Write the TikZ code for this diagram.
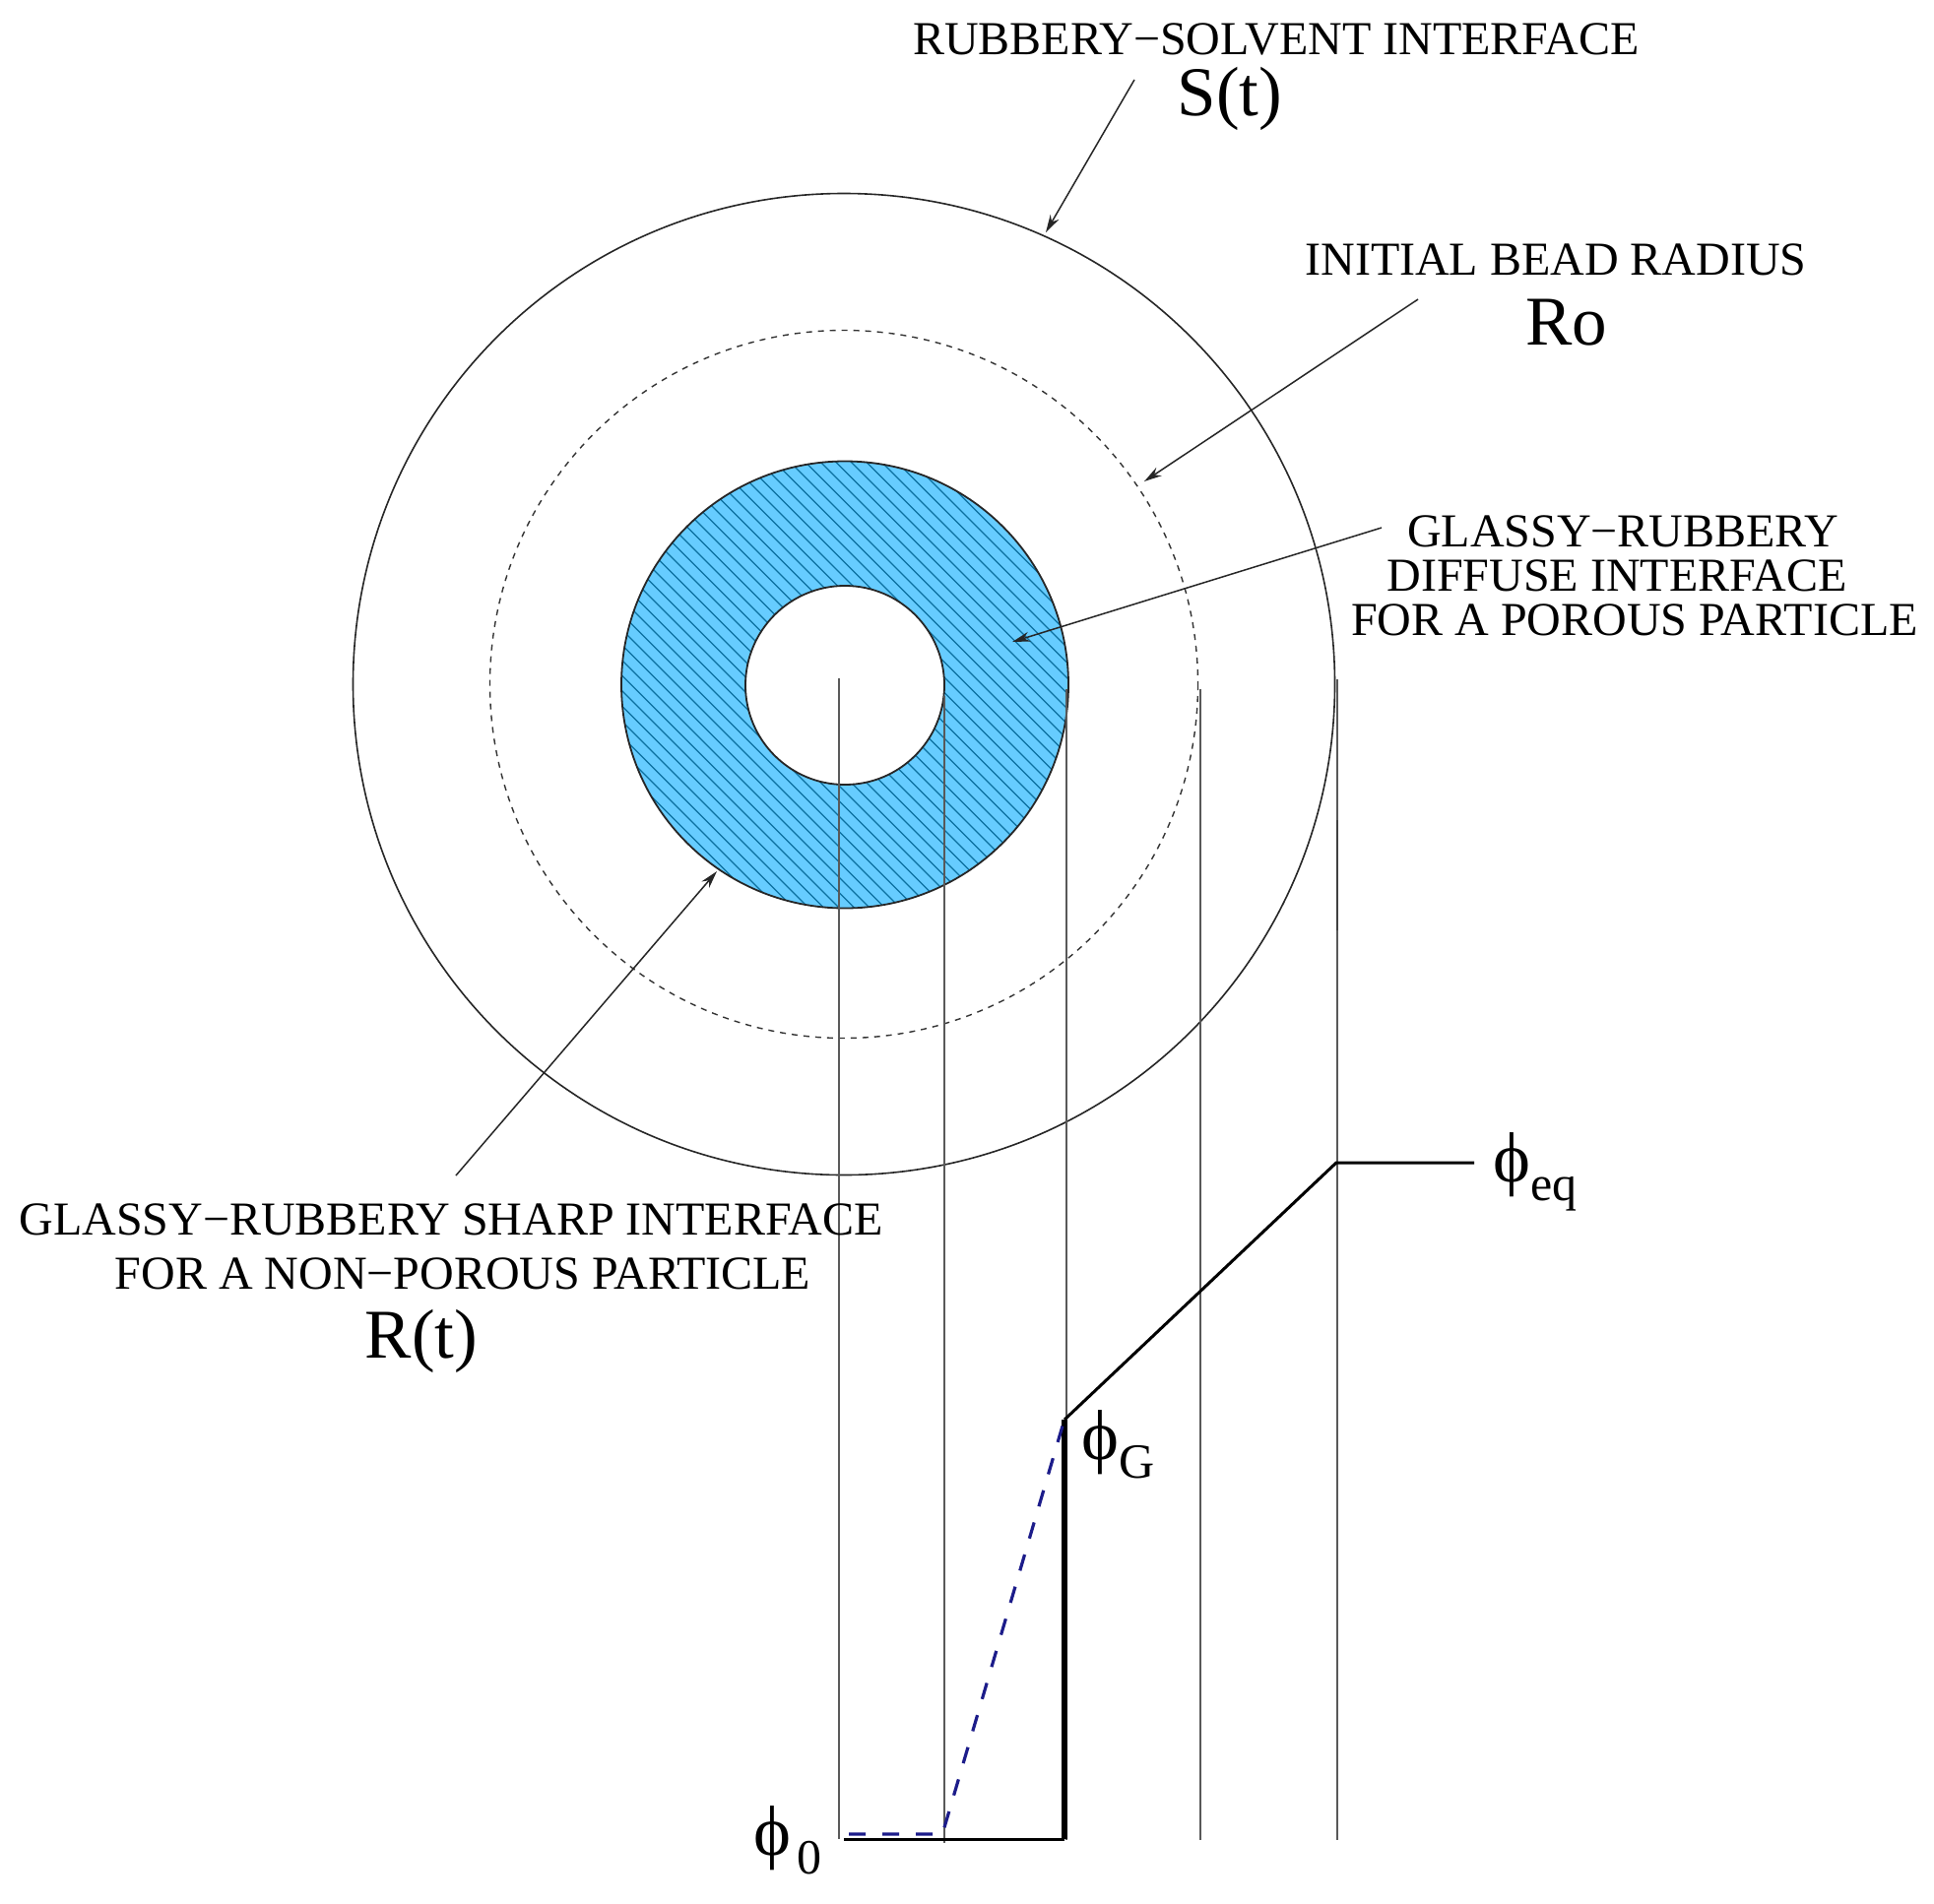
\documentclass[tikz,border=0pt]{standalone}
\usepackage{fontspec}
\setmainfont{Liberation Serif}
\usetikzlibrary{arrows.meta}
\definecolor{ringblue}{HTML}{66CCFF}
\definecolor{hatchblue}{HTML}{0B6F9E}
\definecolor{dashblue}{HTML}{1C1C8A}
\newcommand{\phisub}[2]{ϕ\kern#1\raisebox{-9.5pt}{\fontsize{25}{27}\selectfont #2}}
\tikzset{
  txt/.style={inner sep=0pt,font=\fontsize{24}{26}\selectfont},
  bigtxt/.style={inner sep=0pt,font=\fontsize{35.5}{38}\selectfont},
  phitxt/.style={inner sep=0pt,font=\fontsize{36}{38}\selectfont},
  thin line/.style={line width=0.8pt,black!85},
  leader/.style={line width=0.75pt,black!85,-{Stealth[length=9pt,width=5pt]}},
  guide/.style={line width=0.85pt,black!65},
  profile/.style={line width=1.5pt,black},
  dashprofile/.style={line width=1.6pt,dashblue,dash pattern=on 8.5pt off 8.5pt},
}
\begin{document}
\begin{tikzpicture}[x=0.5pt,y=-0.5pt]
\useasboundingbox (0,0) rectangle (1964,1933);
% coordinates
\coordinate (c) at (857,695);
\coordinate (sFrom) at (1152,81);
\coordinate (sTo) at (1062,236);
\coordinate (roFrom) at (1440,304);
\coordinate (roTo) at (1162,489);
\coordinate (dFrom) at (1403,536);
\coordinate (dTo) at (1028,652);
\coordinate (shFrom) at (463,1194);
\coordinate (shTo) at (728,885);
\coordinate (g1t) at (852,689);
\coordinate (g1b) at (852,1868);
\coordinate (g2t) at (959,707);
\coordinate (g2b) at (959,1872);
\coordinate (g3t) at (1083,700);
\coordinate (g3b) at (1083,1869);
\coordinate (g4t) at (1219,700);
\coordinate (g4b) at (1219,1869);
\coordinate (g5t) at (1358,690);
\coordinate (g5b) at (1358,1869);
\coordinate (g5u) at (1358,833);
\coordinate (g5v) at (1358,945);
\coordinate (p0) at (857,1868);
\coordinate (p1) at (1081,1868);
\coordinate (p2) at (1081,1442);
\coordinate (p3) at (1357,1181);
\coordinate (p4) at (1497,1181);
\coordinate (q0) at (862,1863);
\coordinate (q1) at (957,1863);
\coordinate (q2) at (1080,1445);
% ring
\fill[ringblue,even odd rule] (858,695.5) circle[radius=227] (858,696) circle[radius=101];
\begin{scope}[even odd rule]
\clip (858,695.5) circle[radius=227] (858,696) circle[radius=101];
\foreach \k in {-30,...,30}{
  \draw[hatchblue,line width=0.6pt] ({858+\k*15.5-300},{695.5-300}) -- ({858+\k*15.5+300},{695.5+300});
}
\end{scope}
\draw[line width=0.9pt,black!85] (858,695.5) circle[radius=227];
\draw[line width=0.9pt,black!85] (858,696) circle[radius=101];
% circles
\draw[thin line] (c) circle[radius=498.5];
\draw[line width=0.7pt,black!80,dash pattern=on 3pt off 3pt] (c) circle[radius=359.5];
% guide lines
\draw[guide] (g1t) -- (g1b);
\draw[guide] (g2t) -- (g2b);
\draw[guide] (g3t) -- (g3b);
\draw[guide] (g4t) -- (g4b);
\draw[guide] (g5t) -- (g5b);
\draw[line width=1.2pt,black!75] (g5u) -- (g5v);
% leaders
\draw[leader] (sFrom) -- (sTo);
\draw[leader] (roFrom) -- (roTo);
\draw[leader] (dFrom) -- (dTo);
\draw[leader] (shFrom) -- (shTo);
% profile
\draw[profile] (p0) -- (p1);
\draw[line width=3pt,black] (p1) -- (p2);
\draw[profile] (p2) -- (p3) -- (p4);
\draw[dashprofile] (q0) -- (q1) -- (q2);
% text
\node[txt] (t1) at (1296,40) {RUBBERY−SOLVENT INTERFACE};
\node[bigtxt] (t2) at (1249,100) {S(t)};
\node[txt] (t3) at (1580,264) {INITIAL BEAD RADIUS};
\node[bigtxt] (t4) at (1591,328) {Ro};
\node[txt] (t5) at (1648,540) {GLASSY−RUBBERY};
\node[txt] (t6) at (1642,585) {DIFFUSE INTERFACE};
\node[txt] (t7) at (1660,630) {FOR A POROUS PARTICLE};
\node[txt] (t8) at (458,1239) {GLASSY−RUBBERY SHARP INTERFACE};
\node[txt] (t9) at (470,1294) {FOR A NON−POROUS PARTICLE};
\node[bigtxt] (t10) at (428,1362) {R(t)};
\node[phitxt,anchor=base west] (ph1) at (1516,1200) {\phisub{0pt}{eq}};
\node[phitxt,anchor=base west] (ph2) at (1098,1482) {\phisub{0pt}{G}};
\node[phitxt,anchor=base west] (ph3) at (765,1884) {\phisub{3pt}{0}};
\end{tikzpicture}
\end{document}
